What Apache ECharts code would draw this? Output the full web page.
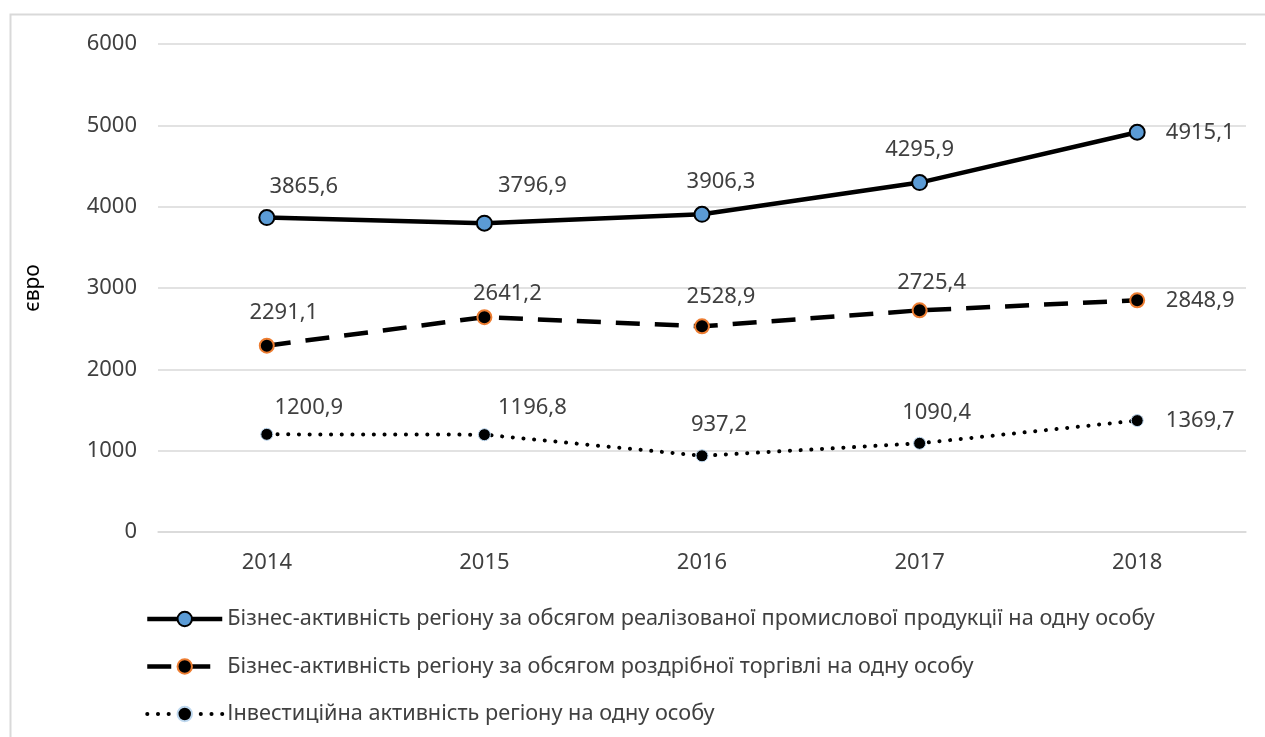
<!DOCTYPE html>
<html>
<head>
<meta charset="utf-8">
<script src="https://cdn.jsdelivr.net/npm/echarts@6/dist/echarts.min.js"></script>
<style>
  html, body { margin: 0; padding: 0; background: #fff; }
  #chart { width: 1265px; height: 737px; }
</style>
</head>
<body>
<div id="chart"></div>
<script>
// Years on the category axis
const years = ['2014', '2015', '2016', '2017', '2018'];

// Values per person, euro
const industrySales = [3865.6, 3796.9, 3906.3, 4295.9, 4915.1];
const retailTrade = [2291.1, 2641.2, 2528.9, 2725.4, 2848.9];
const investment = [1200.9, 1196.8, 937.2, 1090.4, 1369.7];

// Series names shown in the legend
const seriesNames = [
  'Бізнес-активність регіону за обсягом реалізованої промислової продукції на одну особу',
  'Бізнес-активність регіону за обсягом роздрібної торгівлі на одну особу',
  'Інвестиційна активність регіону на одну особу'
];

// Value axis ticks
const yTicks = [0, 1000, 2000, 3000, 4000, 5000, 6000];

// Label placement (offset from the point centre, px)
const labelShift = [
  [[37, -31], [48, -37], [19, -33], [0, -33], [63, 0]],
  [[17, -33], [23, -23], [19, -30], [12, -28], [63, 0]],
  [[42, -27], [48, -27], [17, -31], [17, -31], [63, 0]]
];

const FONT = 'Noto Sans';
const TEXT = '#404040';

function fmt(v) { return v.toFixed(1).replace('.', ','); }

function withLabels(values, shifts) {
  return values.map((v, i) => ({
    value: v,
    label: { offset: shifts[i] }
  }));
}

const lineStyles = [
  { color: '#000', width: 4.5 },
  { color: '#000', width: 4.5, type: [24, 15] },
  { color: '#000', width: 4, type: [0.1, 10.6], cap: 'round' }
];

const chart = echarts.init(document.getElementById('chart'));

chart.setOption({
  animation: false,
  backgroundColor: '#fff',
  graphic: [{
    type: 'rect',
    left: 8, top: 12,
    shape: { width: 1400, height: 900 },
    style: { fill: 'none', stroke: '#d9d9d9', lineWidth: 2 },
    silent: true
  }],
  grid: { left: 158, right: 19, top: 44, bottom: 205 },
  legend: {
    orient: 'vertical',
    left: 140,
    top: 603,
    itemWidth: 75,
    itemHeight: 18,
    itemGap: 25.5,
    textStyle: { fontFamily: FONT, fontSize: 21.7, color: TEXT, lineHeight: 22 },
    data: seriesNames.map((n, i) => ({ name: n, lineStyle: lineStyles[i] }))
  },
  xAxis: {
    type: 'category',
    data: years,
    boundaryGap: true,
    axisLine: { show: true, lineStyle: { color: '#d9d9d9', width: 1.5 } },
    axisTick: { show: false },
    axisLabel: { fontFamily: FONT, fontSize: 22, color: TEXT, margin: 20 }
  },
  yAxis: {
    type: 'value',
    min: yTicks[0],
    max: yTicks[yTicks.length - 1],
    interval: 1000,
    name: 'євро',
    nameLocation: 'middle',
    nameGap: 114,
    nameRotate: 90,
    nameTextStyle: { fontFamily: FONT, fontSize: 21, color: '#000' },
    axisLine: { show: false },
    axisTick: { show: false },
    axisLabel: {
      fontFamily: FONT, fontSize: 22, color: TEXT, margin: 21,
      formatter: v => String(v)
    },
    splitLine: { lineStyle: { color: '#d9d9d9', width: 1.5 } }
  },
  series: [
    {
      name: seriesNames[0],
      type: 'line',
      data: withLabels(industrySales, labelShift[0]),
      lineStyle: lineStyles[0],
      symbol: 'circle',
      symbolSize: 15,
      itemStyle: { color: '#5b9bd5', borderColor: '#000', borderWidth: 2 },
      label: {
        show: true, position: 'inside',
        fontFamily: FONT, fontSize: 22, color: TEXT,
        formatter: p => fmt(p.value)
      },
      z: 3
    },
    {
      name: seriesNames[1],
      type: 'line',
      data: withLabels(retailTrade, labelShift[1]),
      lineStyle: lineStyles[1],
      symbol: 'circle',
      symbolSize: 14,
      itemStyle: { color: '#000', borderColor: '#ed7d31', borderWidth: 2 },
      label: {
        show: true, position: 'inside',
        fontFamily: FONT, fontSize: 22, color: TEXT,
        formatter: p => fmt(p.value)
      },
      z: 2
    },
    {
      name: seriesNames[2],
      type: 'line',
      data: withLabels(investment, labelShift[2]),
      lineStyle: lineStyles[2],
      symbol: 'circle',
      symbolSize: 12,
      itemStyle: { color: '#000', borderColor: '#bdd7ee', borderWidth: 1 },
      label: {
        show: true, position: 'inside',
        fontFamily: FONT, fontSize: 22, color: TEXT,
        formatter: p => fmt(p.value)
      },
      z: 1
    }
  ]
});
</script>
</body>
</html>
